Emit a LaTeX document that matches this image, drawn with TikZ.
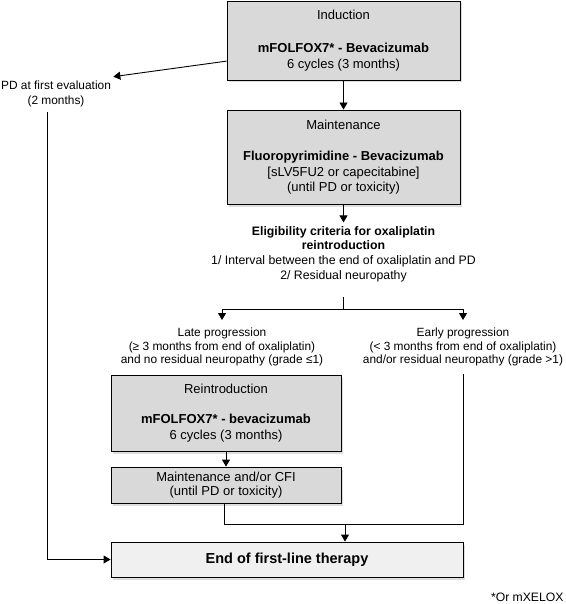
\documentclass[tikz,border=0pt]{standalone}
\usepackage{fontspec}
\setmainfont{Liberation Sans}
\usetikzlibrary{arrows.meta,shadows}
\definecolor{boxgray}{HTML}{D9D9D9}
\definecolor{endgray}{HTML}{F0F0F0}
\begin{document}
\begin{tikzpicture}[x=1pt,y=-1pt,
  line width=0.9pt,
  arr/.style={-{Triangle[width=8pt,length=7pt]}},
  box/.style={draw=black, fill=boxgray, align=center, inner sep=2pt,
    font=\fontsize{13}{15.5}\selectfont,
    drop shadow={shadow xshift=2pt,shadow yshift=-2.5pt,fill=black!13,opacity=1}},
  endbox/.style={box, fill=endgray, font=\fontsize{14.5}{17}\selectfont\bfseries},
  txt/.style={align=center, inner xsep=2pt, font=\fontsize{12.3}{14.7}\selectfont}
]
\useasboundingbox (0,0) rectangle (565,604);

% boxes
\node[box, minimum width=233pt, minimum height=79pt] (ind) at (343.5,40.5)
  {Induction\\[17.5pt]\textbf{mFOLFOX7* - Bevacizumab}\\6 cycles (3 months)};
\node[box, minimum width=233pt, minimum height=94pt] (maint) at (343.5,157)
  {Maintenance\\[15.5pt]\textbf{Fluoropyrimidine - Bevacizumab}\\[0.5pt][sLV5FU2 or capecitabine]\\(until PD or toxicity)};
\node[box, minimum width=230pt, minimum height=76pt] (reint) at (226,413)
  {Reintroduction\\[14.5pt]\textbf{mFOLFOX7* - bevacizumab}\\6 cycles (3 months)};
\node[box, minimum width=230pt, minimum height=36pt, font=\fontsize{13}{14}\selectfont] (cfi) at (226,485)
  {Maintenance and/or CFI\\(until PD or toxicity)};
\node[endbox, minimum width=352pt, minimum height=35pt] (endb) at (287,559.5)
  {End of first-line therapy};

% free texts
\node[txt] (elig) at (343.5,254)
  {\textbf{Eligibility criteria for oxaliplatin}\\\textbf{reintroduction}\\1/ Interval between the end of oxaliplatin and PD\\2/ Residual neuropathy};
\node[txt, anchor=north, inner ysep=7.5pt, font=\fontsize{11.9}{13.5}\selectfont] (late) at (222,320)
  {Late progression\\(≥ 3 months from end of oxaliplatin)\\and no residual neuropathy (grade ≤1)};
\node[txt, anchor=north, inner ysep=7.5pt, font=\fontsize{11.9}{13.5}\selectfont] (early) at (463,320)
  {Early progression\\(< 3 months from end of oxaliplatin)\\and/or residual neuropathy (grade >1)};
\node[txt, font=\fontsize{11.9}{15}\selectfont] (pd) at (56,93.5)
  {PD at first evaluation\\(2 months)};
\node[anchor=east, inner sep=1pt, font=\fontsize{12.2}{14}\selectfont] (foot) at (565,597) {*Or mXELOX};

% helper coordinates
\coordinate (jtop) at (343.5,297);
\coordinate (j) at (343.5,309);
\coordinate (pdl) at (47,112);
\coordinate (cfib) at (224,524);
\coordinate (mrg) at (345,524);

% connectors
\draw[arr] (ind.south) -- (maint.north);
\draw[arr] (maint.south) -- (elig.north);
\draw[arr] (ind.190) -- (pd.north east);
\draw (jtop) -- (j);
\draw[arr] (j) -| (late.north);
\draw[arr] (j) -| (early.north);
\draw[arr] (reint.south) -- (cfi.north);
\draw (cfi.south -| cfib) -- (cfib) -- (mrg);
\draw (early.south) |- (mrg);
\draw[arr] (mrg) -- (endb.north -| mrg);
\draw[arr] (pdl) |- (endb.west);
\end{tikzpicture}
\end{document}
